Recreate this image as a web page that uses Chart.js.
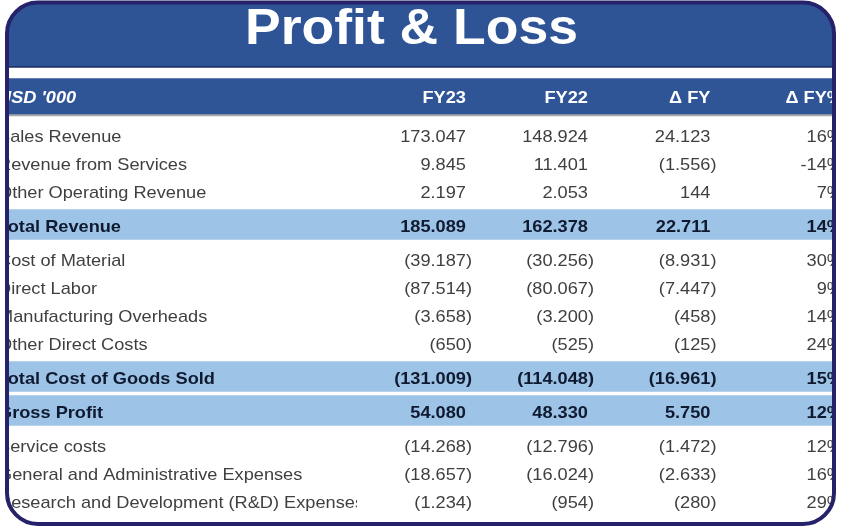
<!DOCTYPE html>
<html>
<head>
<meta charset="utf-8">
<script src="https://cdn.jsdelivr.net/npm/chart.js@4.4.1/dist/chart.umd.min.js"></script>
<style>
  html, body { margin: 0; padding: 0; background: #ffffff; }
  #wrap { width: 842px; height: 527px; position: relative; }
</style>
</head>
<body>
<div id="wrap"><canvas id="c"></canvas></div>
<script>
// ---------------- DATA ----------------
const title = 'Profit & Loss';
const headerLabels = ["USD '000", 'FY23', 'FY22', 'Δ FY', 'Δ FY%'];
const rowLabels = [
  'Sales Revenue',
  'Revenue from Services',
  'Other Operating Revenue',
  'Total Revenue',
  'Cost of Material',
  'Direct Labor',
  'Manufacturing Overheads',
  'Other Direct Costs',
  'Total Cost of Goods Sold',
  'Gross Profit',
  'Service costs',
  'General and Administrative Expenses',
  'Research and Development (R&D) Expenses'
];
const fy23 = [173047, 9845, 2197, 185089, -39187, -87514, -3658, -650, -131009, 54080, -14268, -18657, -1234];
const fy22 = [148924, 11401, 2053, 162378, -30256, -80067, -3200, -525, -114048, 48330, -12796, -16024, -954];
const deltaFY = [24123, -1556, 144, 22711, -8931, -7447, -458, -125, -16961, 5750, -1472, -2633, -280];
const deltaPct = [16, -14, 7, 14, 30, 9, 14, 24, 15, 12, 12, 16, 29];
const isTotal = [false, false, false, true, false, false, false, false, true, true, false, false, false];

// ---------------- LAYOUT / STYLE ----------------
const W = 842, H = 527;
const SX = 1.07;                       // horizontal text stretch
const FONT = "'Liberation Sans', Arial, sans-serif";
const COL_RIGHT = [472, 594, 716.5, 843];
const LABEL_X = -2, LABEL_CLIP = 357;
const FIRST_ROW = 135.5, PITCH = 28, PITCH_TOTAL = 34;
const HEADER_CENTER = 96, HEADER_H = 36;
const C_TITLE = '#2e5496', C_HEADER = '#2f5597', C_BAND = '#9dc3e6', C_BORDER = '#26216b';
const C_TEXT = '#3f3f3f', C_TEXT_BOLD = '#0f1a30';

// row centres in table units (derived from row kinds)
const rowCenter = [];
rowLabels.forEach((_, i) => {
  if (i === 0) rowCenter.push(FIRST_ROW);
  else rowCenter.push(rowCenter[i - 1] + ((isTotal[i] || isTotal[i - 1]) ? PITCH_TOTAL : PITCH));
});

function fmt(v) {
  const s = Math.abs(v).toString().replace(/\B(?=(\d{3})+(?!\d))/g, '.');
  return v < 0 ? '(' + s + ')' : s;
}

function framePath(ctx) {
  ctx.beginPath();
  ctx.roundRect(7, 2.5, 827, 521.5, 31);
}

function txt(ctx, s, x, y, align, font, color) {
  ctx.save();
  ctx.font = font;
  ctx.fillStyle = color;
  ctx.textAlign = align;
  ctx.textBaseline = 'alphabetic';
  ctx.translate(x, y);
  ctx.scale(SX, 1);
  ctx.fillText(s, 0, 0);
  ctx.restore();
}

const tablePlugin = {
  id: 'tablePlugin',
  beforeDraw(chart) {
    const ctx = chart.ctx;
    const xs = chart.scales.x, ys = chart.scales.y;
    ctx.save();
    framePath(ctx);
    ctx.clip();
    ctx.fillStyle = '#ffffff';
    ctx.fillRect(0, 0, W, H);
    // title band
    const tTop = ys.getPixelForValue(0), tBot = ys.getPixelForValue(66);
    ctx.fillStyle = C_TITLE;
    ctx.fillRect(xs.getPixelForValue(0), tTop, xs.getPixelForValue(W), tBot - tTop);
    ctx.fillStyle = '#1c3468';
    ctx.fillRect(xs.getPixelForValue(0), tBot, xs.getPixelForValue(W), 2);
    txt(ctx, title, xs.getPixelForValue(411.5), ys.getPixelForValue(43.5), 'center', 'bold 50px ' + FONT, '#ffffff');
  },
  afterDatasetsDraw(chart) {
    const ctx = chart.ctx;
    const xs = chart.scales.x, ys = chart.scales.y;
    ctx.save();
    ctx.font = '17px ' + FONT;
    const padReg = ctx.measureText(')').width * SX;
    ctx.font = 'bold 17px ' + FONT;
    const padBold = ctx.measureText(')').width * SX;
    ctx.restore();

    // header
    const hy = ys.getPixelForValue(HEADER_CENTER + 7);
    txt(ctx, headerLabels[0], xs.getPixelForValue(LABEL_X), hy, 'left', 'italic bold 17px ' + FONT, '#ffffff');
    for (let c = 1; c < headerLabels.length; c++) {
      const xr = xs.getPixelForValue(COL_RIGHT[c - 1]) - (c < 4 ? padBold : 0);
      txt(ctx, headerLabels[c], xr, hy, 'right', 'bold 17px ' + FONT, '#ffffff');
    }

    // rows
    rowLabels.forEach((lab, i) => {
      const bold = isTotal[i];
      const font = (bold ? 'bold ' : '') + '17px ' + FONT;
      const color = bold ? C_TEXT_BOLD : C_TEXT;
      const pad = bold ? padBold : padReg;
      const y = ys.getPixelForValue(rowCenter[i] + 6);
      ctx.save();
      ctx.beginPath();
      ctx.rect(0, 0, xs.getPixelForValue(LABEL_CLIP), H);
      ctx.clip();
      txt(ctx, lab, xs.getPixelForValue(LABEL_X), y, 'left', font, color);
      ctx.restore();
      const vals = [fy23[i], fy22[i], deltaFY[i]];
      vals.forEach((v, c) => {
        const xr = xs.getPixelForValue(COL_RIGHT[c]) - (v < 0 ? 0 : pad);
        txt(ctx, fmt(v), xr, y, 'right', font, color);
      });
      txt(ctx, deltaPct[i] + '%', xs.getPixelForValue(COL_RIGHT[3]), y, 'right', font, color);
    });
  },
  afterDraw(chart) {
    const ctx = chart.ctx;
    ctx.restore();
    ctx.save();
    framePath(ctx);
    ctx.lineWidth = 4;
    ctx.strokeStyle = C_BORDER;
    ctx.stroke();
    ctx.restore();
  }
};

const bandData = rowLabels.map((l, i) => isTotal[i] ? { y: rowCenter[i] - 1, x: [0, W] } : null).filter(Boolean);

new Chart(document.getElementById('c'), {
  type: 'bar',
  data: {
    datasets: [
      { label: 'white stripe', data: [{ y: 73, x: [0, W] }], backgroundColor: '#ffffff', barThickness: 10 },
      { label: 'header', data: [{ y: HEADER_CENTER, x: [0, W] }], backgroundColor: C_HEADER, barThickness: HEADER_H },
      { label: 'header rule', data: [{ y: HEADER_CENTER + HEADER_H / 2 + 1, x: [0, W] }], backgroundColor: '#a6a6a6', barThickness: 2 },
      { label: 'totals', data: bandData, backgroundColor: C_BAND, barThickness: 30 }
    ]
  },
  options: {
    indexAxis: 'y',
    responsive: true,
    maintainAspectRatio: false,
    animation: false,
    events: [],
    layout: { padding: 0 },
    datasets: { bar: { grouped: false, clip: false, borderWidth: 0, borderSkipped: false } },
    plugins: { legend: { display: false }, tooltip: { enabled: false }, title: { display: false } },
    scales: {
      x: { type: 'linear', min: 0, max: W, display: false, offset: false },
      y: { type: 'linear', min: 0, max: H, reverse: true, display: false, offset: false }
    }
  },
  plugins: [tablePlugin]
});
</script>
</body>
</html>
